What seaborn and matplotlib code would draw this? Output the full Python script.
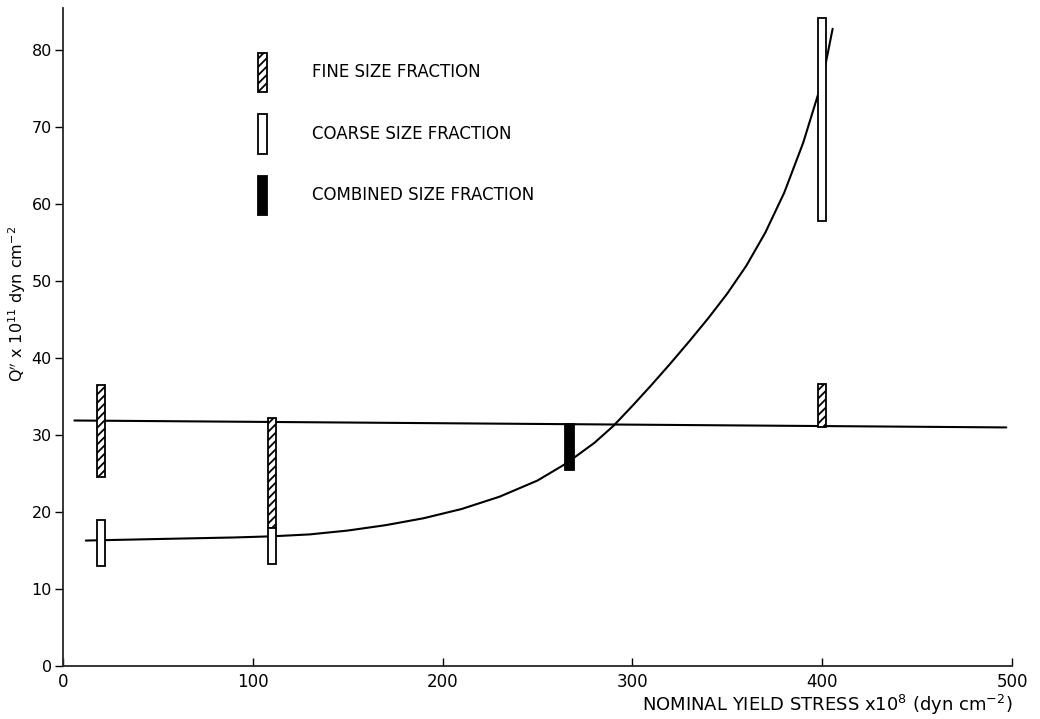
import numpy as np
import pandas as pd
import matplotlib
matplotlib.use("Agg")
import matplotlib.pyplot as plt
import seaborn as sns
from matplotlib.patches import Patch

# ---- data ----
fine_x = [20, 110, 400]
fine_lo = [24.6, 17.9, 31.0]
fine_hi = [36.5, 32.2, 36.6]

coarse_x = [20, 110, 400]
coarse_lo = [13.0, 13.3, 57.8]
coarse_hi = [19.0, 17.9, 84.2]

combined_x = [267]
combined_lo = [25.5]
combined_hi = [31.5]

flat_x = [6, 497]
flat_y = [31.9, 31.0]

curve_x = [12, 50, 90, 110, 130, 150, 170, 190, 210, 230, 250, 265, 280, 290,
           300, 310, 320, 330, 340, 350, 360, 370, 380, 390, 400, 405.5]
curve_y = [16.3, 16.5, 16.7, 16.85, 17.1, 17.6, 18.3, 19.2, 20.4, 22.0, 24.1,
           26.3, 29.0, 31.2, 33.8, 36.5, 39.3, 42.2, 45.2, 48.4, 52.0, 56.3,
           61.5, 68.0, 76.0, 82.8]

x_ticks = [0, 100, 200, 300, 400, 500]
y_ticks = [0, 10, 20, 30, 40, 50, 60, 70, 80]

labels = ["FINE SIZE FRACTION", "COARSE SIZE FRACTION", "COMBINED SIZE FRACTION"]

sns.set_style("ticks")
plt.rcParams["font.family"] = ["DejaVu Sans"]
plt.rcParams["hatch.linewidth"] = 1.3
plt.rcParams["text.color"] = "black"
plt.rcParams["axes.labelcolor"] = "black"
plt.rcParams["xtick.color"] = "black"
plt.rcParams["ytick.color"] = "black"

fig = plt.figure(figsize=(10.4, 7.19), dpi=100)
ax = fig.add_axes([63 / 1040, 1 - 666 / 719, (1012 - 63) / 1040, (666 - 8) / 719])

flat_df = pd.DataFrame({"x": flat_x, "y": flat_y})
curve_df = pd.DataFrame({"x": curve_x, "y": curve_y})
sns.lineplot(data=flat_df, x="x", y="y", ax=ax, color="black", lw=1.5, sort=False)
sns.lineplot(data=curve_df, x="x", y="y", ax=ax, color="black", lw=1.5, sort=False)

bw = 4.5
ax.bar(fine_x, np.array(fine_hi) - np.array(fine_lo), bottom=fine_lo, width=bw,
       facecolor="white", edgecolor="black", hatch="////", lw=1.3, zorder=3)
ax.bar(coarse_x, np.array(coarse_hi) - np.array(coarse_lo), bottom=coarse_lo, width=bw,
       facecolor="white", edgecolor="black", lw=1.3, zorder=3)
ax.bar(combined_x, np.array(combined_hi) - np.array(combined_lo), bottom=combined_lo,
       width=bw, facecolor="black", edgecolor="black", lw=1.3, zorder=3)

handles = [Patch(facecolor="white", edgecolor="black", hatch="////", lw=1.3),
           Patch(facecolor="white", edgecolor="black", lw=1.3),
           Patch(facecolor="black", edgecolor="black", lw=1.3)]
leg = ax.legend(handles, labels, loc="upper left", bbox_to_anchor=(0.19, 0.955),
                frameon=False, fontsize=12, handlelength=0.55, handleheight=3.3,
                labelspacing=1.3, handletextpad=2.7)

ax.set_xlim(0, 500)
ax.set_ylim(0, 85.5)
ax.set_xticks(x_ticks)
ax.set_yticks(y_ticks)
ax.tick_params(axis="x", direction="in", length=6, labelsize=12, pad=5, width=1)
ax.tick_params(axis="y", direction="out", length=6, labelsize=11.5, pad=2, width=1)
sns.despine(ax=ax)
for s in ["left", "bottom"]:
    ax.spines[s].set_linewidth(1.3)

ax.set_xlabel("NOMINAL YIELD STRESS x10$^8$ (dyn cm$^{-2}$)", fontsize=13,
              ha="right")
ax.xaxis.set_label_coords(1.0, -0.041)
ax.set_ylabel("Q$''$ x 10$^{11}$ dyn cm$^{-2}$", fontsize=11.5)
ax.yaxis.set_label_coords(-0.037, 0.55)

fig.savefig("out.png", dpi=100)
